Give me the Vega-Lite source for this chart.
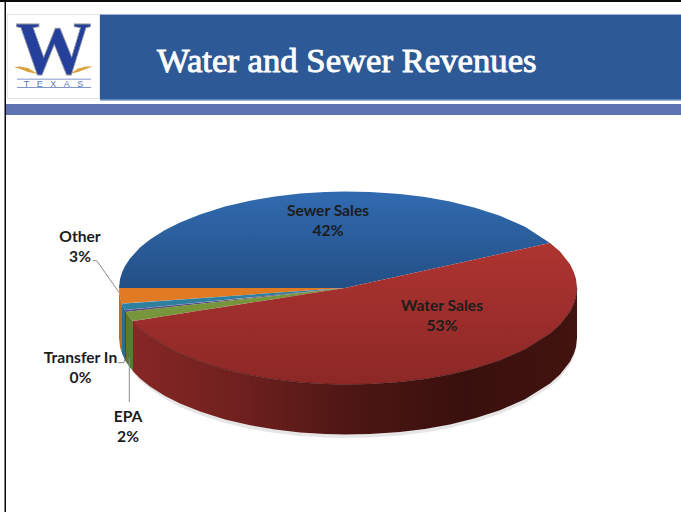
{
  "$schema": "https://vega.github.io/schema/vega-lite/v6.json",
  "autosize": {"type": "fit", "contains": "padding"},
  "width": 681,
  "height": 512,
  "padding": 0,
  "background": "#ffffff",
  "view": {"stroke": null},
  "datasets": {
    "panels": [
      {"part": "frame", "x": 0, "x2": 681, "y": 0, "y2": 2},
      {"part": "frame", "x": 4.5, "x2": 6, "y": 0, "y2": 512},
      {"part": "banner edge", "x": 100, "x2": 681, "y": 14, "y2": 101},
      {"part": "banner", "x": 100, "x2": 681, "y": 15, "y2": 99.5},
      {"part": "stripe", "x": 6, "x2": 681, "y": 104, "y2": 115},
      {"part": "logo edge", "x": 7, "x2": 100, "y": 14, "y2": 99},
      {"part": "logo", "x": 8, "x2": 99, "y": 15, "y2": 98},
      {"part": "logo rule", "x": 17, "x2": 91, "y": 78.7, "y2": 79.5},
      {"part": "logo rule", "x": 17, "x2": 91, "y": 87.3, "y2": 88.1}
    ],
    "pie": [
      {"part": "Sewer Sales", "x": 119, "y": 288, "y2": 288},
      {"part": "Sewer Sales", "x": 120, "y": 279, "y2": 288},
      {"part": "Sewer Sales", "x": 122, "y": 272.4, "y2": 288},
      {"part": "Sewer Sales", "x": 125, "y": 266.1, "y2": 288},
      {"part": "Sewer Sales", "x": 130, "y": 258.5, "y2": 288},
      {"part": "Sewer Sales", "x": 140, "y": 247.6, "y2": 288},
      {"part": "Sewer Sales", "x": 150, "y": 239.5, "y2": 288},
      {"part": "Sewer Sales", "x": 165, "y": 230, "y2": 288},
      {"part": "Sewer Sales", "x": 180, "y": 222.4, "y2": 288},
      {"part": "Sewer Sales", "x": 200, "y": 214.4, "y2": 288},
      {"part": "Sewer Sales", "x": 225, "y": 206.6, "y2": 288},
      {"part": "Sewer Sales", "x": 250, "y": 200.8, "y2": 288},
      {"part": "Sewer Sales", "x": 275, "y": 196.5, "y2": 288},
      {"part": "Sewer Sales", "x": 300, "y": 193.6, "y2": 288},
      {"part": "Sewer Sales", "x": 325, "y": 192, "y2": 288},
      {"part": "Sewer Sales", "x": 345, "y": 191.5, "y2": 288},
      {"part": "Sewer Sales", "x": 370, "y": 191.9, "y2": 282.5},
      {"part": "Sewer Sales", "x": 400, "y": 194, "y2": 275.9},
      {"part": "Sewer Sales", "x": 425, "y": 197.1, "y2": 270.4},
      {"part": "Sewer Sales", "x": 450, "y": 201.6, "y2": 265},
      {"part": "Sewer Sales", "x": 475, "y": 207.7, "y2": 259.5},
      {"part": "Sewer Sales", "x": 500, "y": 215.8, "y2": 254},
      {"part": "Sewer Sales", "x": 525, "y": 226.8, "y2": 248.5},
      {"part": "Sewer Sales", "x": 550, "y": 243, "y2": 243},

      {"part": "Water Sales", "x": 133, "y": 321, "y2": 321.2},
      {"part": "Water Sales", "x": 140, "y": 319.9, "y2": 328.4},
      {"part": "Water Sales", "x": 150, "y": 318.4, "y2": 336.5},
      {"part": "Water Sales", "x": 165, "y": 316, "y2": 346},
      {"part": "Water Sales", "x": 180, "y": 313.7, "y2": 353.6},
      {"part": "Water Sales", "x": 200, "y": 310.6, "y2": 361.6},
      {"part": "Water Sales", "x": 225, "y": 306.7, "y2": 369.4},
      {"part": "Water Sales", "x": 250, "y": 302.8, "y2": 375.2},
      {"part": "Water Sales", "x": 275, "y": 298.9, "y2": 379.5},
      {"part": "Water Sales", "x": 300, "y": 295, "y2": 382.4},
      {"part": "Water Sales", "x": 325, "y": 291.1, "y2": 384},
      {"part": "Water Sales", "x": 345, "y": 288, "y2": 384.5},
      {"part": "Water Sales", "x": 370, "y": 282.5, "y2": 384.1},
      {"part": "Water Sales", "x": 400, "y": 275.9, "y2": 382},
      {"part": "Water Sales", "x": 425, "y": 270.4, "y2": 378.9},
      {"part": "Water Sales", "x": 450, "y": 265, "y2": 374.4},
      {"part": "Water Sales", "x": 475, "y": 259.5, "y2": 368.3},
      {"part": "Water Sales", "x": 500, "y": 254, "y2": 360.2},
      {"part": "Water Sales", "x": 525, "y": 248.5, "y2": 349.2},
      {"part": "Water Sales", "x": 550, "y": 243, "y2": 333.5},
      {"part": "Water Sales", "x": 560, "y": 251.5, "y2": 324.5},
      {"part": "Water Sales", "x": 570, "y": 264.3, "y2": 311.7},
      {"part": "Water Sales", "x": 574, "y": 272.4, "y2": 303.6},
      {"part": "Water Sales", "x": 576, "y": 279, "y2": 297},
      {"part": "Water Sales", "x": 577, "y": 288, "y2": 288},

      {"part": "Water wall", "x": 133, "y": 321.2, "y2": 371.2, "shade": 373},
      {"part": "Water wall", "x": 140, "y": 328.4, "y2": 378.4, "shade": 380.5},
      {"part": "Water wall", "x": 150, "y": 336.5, "y2": 386.5, "shade": 389},
      {"part": "Water wall", "x": 165, "y": 346, "y2": 396, "shade": 399},
      {"part": "Water wall", "x": 180, "y": 353.6, "y2": 403.6, "shade": 407},
      {"part": "Water wall", "x": 200, "y": 361.6, "y2": 411.6, "shade": 415},
      {"part": "Water wall", "x": 225, "y": 369.4, "y2": 419.4, "shade": 423},
      {"part": "Water wall", "x": 250, "y": 375.2, "y2": 425.2, "shade": 429},
      {"part": "Water wall", "x": 275, "y": 379.5, "y2": 429.5, "shade": 433},
      {"part": "Water wall", "x": 300, "y": 382.4, "y2": 432.4, "shade": 436},
      {"part": "Water wall", "x": 325, "y": 384, "y2": 434, "shade": 437.5},
      {"part": "Water wall", "x": 345, "y": 384.5, "y2": 434.5, "shade": 438},
      {"part": "Water wall", "x": 370, "y": 384.1, "y2": 434.1, "shade": 437.5},
      {"part": "Water wall", "x": 400, "y": 382, "y2": 432, "shade": 435.5},
      {"part": "Water wall", "x": 425, "y": 378.9, "y2": 428.9, "shade": 432.5},
      {"part": "Water wall", "x": 450, "y": 374.4, "y2": 424.4, "shade": 428},
      {"part": "Water wall", "x": 475, "y": 368.3, "y2": 418.3, "shade": 422},
      {"part": "Water wall", "x": 500, "y": 360.2, "y2": 410.2, "shade": 414},
      {"part": "Water wall", "x": 525, "y": 349.2, "y2": 399.2, "shade": 403},
      {"part": "Water wall", "x": 550, "y": 333.5, "y2": 383.5, "shade": 387},
      {"part": "Water wall", "x": 560, "y": 324.5, "y2": 374.5, "shade": 378},
      {"part": "Water wall", "x": 570, "y": 311.7, "y2": 361.7, "shade": 365},
      {"part": "Water wall", "x": 574, "y": 303.6, "y2": 353.6, "shade": 357},
      {"part": "Water wall", "x": 576, "y": 297, "y2": 347, "shade": 350},
      {"part": "Water wall", "x": 577, "y": 288, "y2": 338, "shade": 341},

      {"part": "Other", "x": 119, "y": 288, "y2": 288},
      {"part": "Other", "x": 120, "y": 288, "y2": 297},
      {"part": "Other", "x": 122, "y": 288, "y2": 303.6},
      {"part": "Other", "x": 345, "y": 288, "y2": 288},
      {"part": "Transfer In", "x": 122, "y": 303.6, "y2": 303.6},
      {"part": "Transfer In", "x": 125, "y": 303.4, "y2": 309.9},
      {"part": "Transfer In", "x": 345, "y": 288, "y2": 288},
      {"part": "Sliver", "x": 125, "y": 309.9, "y2": 309.9},
      {"part": "Sliver", "x": 126, "y": 309.9, "y2": 312},
      {"part": "Sliver", "x": 345, "y": 288, "y2": 288},
      {"part": "EPA", "x": 126, "y": 312, "y2": 312},
      {"part": "EPA", "x": 130, "y": 311.5, "y2": 317.5},
      {"part": "EPA", "x": 133, "y": 311.1, "y2": 321},
      {"part": "EPA", "x": 345, "y": 288, "y2": 288},

      {"part": "Other wall", "x": 119, "y": 288, "y2": 338},
      {"part": "Other wall", "x": 120, "y": 297, "y2": 347},
      {"part": "Other wall", "x": 122, "y": 303.6, "y2": 353.6},
      {"part": "Transfer wall", "x": 122, "y": 303.6, "y2": 353.6},
      {"part": "Transfer wall", "x": 125, "y": 309.9, "y2": 359.9},
      {"part": "Sliver wall", "x": 125, "y": 309.9, "y2": 359.9},
      {"part": "Sliver wall", "x": 126, "y": 312, "y2": 362},
      {"part": "EPA wall", "x": 126, "y": 312, "y2": 362},
      {"part": "EPA wall", "x": 130, "y": 317.5, "y2": 367.5},
      {"part": "EPA wall", "x": 133, "y": 321.2, "y2": 371.2},

      {"part": "Leaf", "x": 14, "y": 67, "y2": 67},
      {"part": "Leaf", "x": 20, "y": 66.5, "y2": 69},
      {"part": "Leaf", "x": 28, "y": 68, "y2": 72},
      {"part": "Leaf", "x": 38, "y": 74, "y2": 74},
      {"part": "Leaf right", "x": 70, "y": 74, "y2": 74},
      {"part": "Leaf right", "x": 78, "y": 68.5, "y2": 72},
      {"part": "Leaf right", "x": 86, "y": 66.5, "y2": 69},
      {"part": "Leaf right", "x": 93, "y": 66.5, "y2": 66.5}
    ],
    "leaders": [
      {"slice": "Other", "step": 1, "x": 92.7, "y": 260.7},
      {"slice": "Other", "step": 2, "x": 96.7, "y": 260.7},
      {"slice": "Other", "step": 3, "x": 119.3, "y": 292.7},
      {"slice": "Transfer In", "step": 1, "x": 118, "y": 362.7},
      {"slice": "Transfer In", "step": 2, "x": 124, "y": 362.7},
      {"slice": "Transfer In", "step": 3, "x": 125, "y": 358},
      {"slice": "EPA", "step": 1, "x": 129.3, "y": 402},
      {"slice": "EPA", "step": 2, "x": 129.3, "y": 358}
    ],
    "labels": [
      {"text": "Sewer Sales\n42%", "x": 328, "y": 211},
      {"text": "Water Sales\n53%", "x": 442, "y": 306},
      {"text": "Other\n3%", "x": 80, "y": 237},
      {"text": "Transfer In\n0%", "x": 80.5, "y": 358},
      {"text": "EPA\n2%", "x": 128, "y": 417}
    ]
  },
  "data": {"name": "pie"},
  "encoding": {
    "x": {"field": "x", "type": "quantitative", "scale": {"domain": [0, 681], "nice": false, "zero": false}, "axis": null},
    "y": {"field": "y", "type": "quantitative", "scale": {"domain": [512, 0], "nice": false, "zero": false}, "axis": null}
  },
  "layer": [
    {
      "data": {"name": "panels"},
      "mark": {"type": "rect"},
      "encoding": {
        "x2": {"field": "x2"},
        "y2": {"field": "y2"},
        "color": {
          "field": "part", "type": "nominal", "legend": null,
          "sort": null,
          "scale": {
            "domain": ["frame", "banner edge", "banner", "stripe", "logo edge", "logo", "logo rule", "Other", "Transfer In", "Sliver", "EPA", "Other wall", "Transfer wall", "Sliver wall", "EPA wall", "Leaf", "Leaf right"],
            "range": ["#0a0a0a", "#9db2d4", "#2d5a96", "#5f73b0", "#dfe3ea", "#ffffff", "#5a74b8", "#e07b24", "#2f7f9e", "#5b4a8a", "#77953a", "#c76a1c", "#2a6f8c", "#4a3c74", "#5f7a2e", "#d8a33f", "#d8a33f"]
          }
        }
      }
    },
    {
      "transform": [{"filter": "datum.part === 'Water wall'"}],
      "mark": {"type": "area", "color": "#9a9a9a", "opacity": 0.25},
      "encoding": {"y": {"field": "y2", "type": "quantitative"}, "y2": {"field": "shade"}}
    },
    {
      "transform": [{"filter": "datum.part === 'Water wall'"}],
      "mark": {
        "type": "area",
        "color": {
          "gradient": "linear", "x1": 0, "y1": 0, "x2": 1, "y2": 0,
          "stops": [
            {"offset": 0, "color": "#862725"},
            {"offset": 0.25, "color": "#6e201e"},
            {"offset": 0.5, "color": "#4c1613"},
            {"offset": 0.75, "color": "#39100d"},
            {"offset": 1, "color": "#42130f"}
          ]
        }
      },
      "encoding": {"y2": {"field": "y2"}}
    },
    {
      "transform": [{"filter": "indexof(['Other','Transfer In','Sliver','EPA','Other wall','Transfer wall','Sliver wall','EPA wall','Leaf','Leaf right'], datum.part) >= 0"}],
      "mark": {"type": "area"},
      "encoding": {
        "y2": {"field": "y2"},
        "color": {
          "field": "part", "type": "nominal", "legend": null,
          "sort": null,
          "scale": {
            "domain": ["frame", "banner edge", "banner", "stripe", "logo edge", "logo", "logo rule", "Other", "Transfer In", "Sliver", "EPA", "Other wall", "Transfer wall", "Sliver wall", "EPA wall", "Leaf", "Leaf right"],
            "range": ["#0a0a0a", "#9db2d4", "#2d5a96", "#5f73b0", "#dfe3ea", "#ffffff", "#5a74b8", "#e07b24", "#2f7f9e", "#5b4a8a", "#77953a", "#c76a1c", "#2a6f8c", "#4a3c74", "#5f7a2e", "#d8a33f", "#d8a33f"]
          }
        }
      }
    },
    {
      "transform": [{"filter": "datum.part === 'Sewer Sales'"}],
      "mark": {
        "type": "area",
        "color": {
          "gradient": "linear", "x1": 0, "y1": 0, "x2": 0, "y2": 1,
          "stops": [{"offset": 0, "color": "#316bb0"}, {"offset": 1, "color": "#234f85"}]
        }
      },
      "encoding": {"y2": {"field": "y2"}}
    },
    {
      "transform": [{"filter": "datum.part === 'Water Sales'"}],
      "mark": {
        "type": "area",
        "color": {
          "gradient": "linear", "x1": 0, "y1": 0, "x2": 0, "y2": 1,
          "stops": [{"offset": 0, "color": "#ae3431"}, {"offset": 1, "color": "#8c2826"}]
        }
      },
      "encoding": {"y2": {"field": "y2"}}
    },
    {
      "transform": [{"filter": "datum.part === 'Water wall'"}],
      "mark": {"type": "line", "color": "#3a0f0d", "strokeWidth": 0.7, "opacity": 0.7}
    },
    {
      "data": {"name": "leaders"},
      "mark": {"type": "line", "color": "#8c8c8c", "strokeWidth": 1},
      "encoding": {
        "detail": {"field": "slice"},
        "order": {"field": "step", "type": "quantitative"}
      }
    },
    {
      "data": {"name": "labels"},
      "mark": {
        "type": "text", "font": "Lato", "fontWeight": "bold", "fontSize": 15.6,
        "color": "#1c1c1c", "lineBreak": "\n", "lineHeight": 20, "align": "center", "baseline": "middle"
      },
      "encoding": {"text": {"field": "text"}}
    },
    {
      "data": {"values": [{"text": "Water and Sewer Revenues", "x": 157, "y": 72}]},
      "mark": {
        "type": "text", "font": "Liberation Serif", "fontSize": 34.7,
        "color": "#ffffff", "stroke": "#ffffff", "strokeWidth": 0.9, "align": "left", "baseline": "alphabetic"
      },
      "encoding": {"text": {"field": "text"}}
    },
    {
      "data": {"values": [{"text": "W", "x": 53.5, "y": 74}]},
      "mark": {
        "type": "text", "font": "Liberation Serif", "fontWeight": "bold", "fontSize": 76,
        "color": "#24409a", "stroke": "#8f93a3", "strokeWidth": 0.8, "align": "center", "baseline": "alphabetic"
      },
      "encoding": {"text": {"field": "text"}}
    },
    {
      "data": {"values": [{"text": "T\u00a0\u00a0\u00a0E\u00a0\u00a0\u00a0X\u00a0\u00a0\u00a0A\u00a0\u00a0\u00a0S", "x": 53.5, "y": 83.7}]},
      "mark": {
        "type": "text", "font": "Liberation Sans", "fontSize": 9,
        "color": "#5a74b8", "align": "center", "baseline": "middle"
      },
      "encoding": {"text": {"field": "text"}}
    }
  ]
}
